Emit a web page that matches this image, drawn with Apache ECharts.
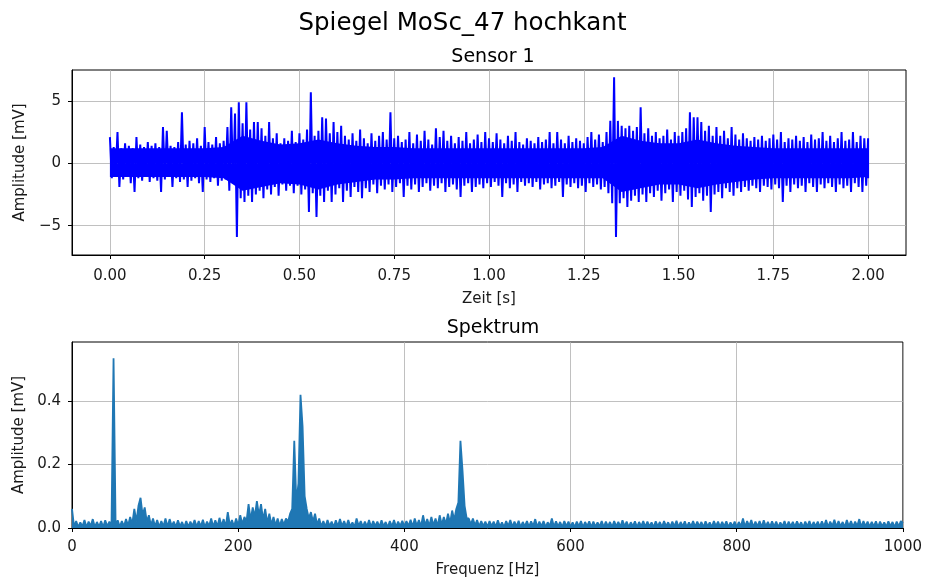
<!DOCTYPE html>
<html lang="de">
<head>
    <meta charset="UTF-8">
    <title>Spiegel MoSc_47 hochkant</title>
    <script src="https://cdn.jsdelivr.net/npm/echarts@6/dist/echarts.min.js"></script>
    <style>
        body { margin: 0; background: #fff; }
        #chart { width: 925px; height: 580px; }
    </style>
</head>
<body>
    <div id="chart"></div>
    <script>
        // Sensor 1: Spitzenwerte je 10 ms (oben / unten)
        var sigHi = [
            2.1,1.3,2.5,1.2,1.6,1.4,1.2,2.1,1.5,1.3,
            1.7,1.4,1.6,1.3,2.9,2.6,1.4,1.3,1.7,4.1,
            1.5,1.8,1.6,2.0,1.4,2.9,1.7,1.5,2.1,1.6,
            1.8,2.9,4.5,4.0,4.9,3.2,4.9,2.7,3.3,3.3,
            2.8,2.2,3.3,2.0,2.4,1.6,2.0,1.8,2.6,1.7,
            2.4,1.9,2.7,5.7,2.2,2.6,3.7,3.6,2.4,3.3,
            2.5,3.0,2.2,1.9,2.4,1.8,2.7,2.0,1.6,2.4,
            1.8,2.2,2.5,1.9,4.1,2.0,2.2,1.7,1.9,2.5,
            1.6,2.3,1.8,2.6,1.9,1.5,2.8,2.1,2.6,1.8,
            2.2,1.6,2.1,1.8,2.5,1.6,1.9,2.3,1.7,2.5,
            2.0,1.7,2.4,1.9,1.6,2.2,1.8,2.5,1.7,1.5,
            2.0,1.8,1.6,2.1,1.7,1.9,2.5,1.6,2.5,1.9,
            1.6,2.2,1.7,2.0,1.8,1.6,2.1,2.5,1.9,2.3,
            1.7,2.5,3.4,6.9,3.4,3.0,2.8,3.0,2.6,2.9,
            4.5,2.4,2.8,2.2,2.5,2.0,2.2,2.7,1.9,2.5,
            2.2,2.5,2.8,4.1,3.7,3.7,3.3,2.6,3.0,2.2,
            2.9,2.2,2.6,2.0,2.9,2.3,1.9,2.4,2.0,1.8,
            2.1,1.9,2.2,1.8,2.0,2.3,1.9,2.5,1.7,2.0,
            1.9,2.2,1.8,2.1,1.7,2.3,1.9,2.0,2.5,1.8,
            2.2,1.7,2.0,2.5,1.8,1.9,2.5,1.7,2.2,2.0,
            2.0
        ];
        var sigLo = [
            -1.2,-1.0,-1.9,-1.3,-1.1,-1.6,-2.3,-1.2,-1.4,-1.1,
            -1.5,-1.2,-1.4,-2.3,-1.3,-1.1,-1.9,-1.2,-1.5,-1.3,
            -1.9,-1.4,-1.2,-1.6,-2.3,-1.3,-1.5,-1.2,-1.8,-1.4,
            -1.3,-2.2,-1.6,-5.9,-2.8,-3.1,-2.6,-3.1,-2.5,-2.2,
            -2.8,-2.1,-2.5,-1.9,-2.6,-1.7,-2.2,-1.8,-2.4,-1.8,
            -2.5,-2.1,-3.9,-2.4,-4.3,-2.6,-3.1,-2.2,-3.1,-2.5,
            -2.0,-3.1,-2.2,-2.7,-1.9,-2.3,-2.8,-2.0,-2.3,-1.7,
            -2.4,-1.8,-2.1,-1.7,-2.3,-1.9,-1.6,-2.7,-1.8,-2.1,
            -1.7,-2.3,-1.9,-1.6,-2.2,-1.8,-2.0,-1.6,-2.3,-1.9,
            -1.7,-2.1,-2.7,-1.8,-1.6,-2.3,-1.9,-1.7,-2.0,-1.6,
            -1.9,-1.5,-1.8,-2.7,-1.6,-2.0,-1.7,-2.3,-1.5,-1.8,
            -1.6,-1.9,-1.5,-2.1,-1.7,-1.6,-2.0,-1.8,-1.5,-2.7,
            -1.7,-1.9,-1.6,-2.0,-1.8,-2.3,-1.6,-1.9,-1.7,-2.1,
            -1.9,-2.4,-3.2,-5.9,-3.2,-2.8,-3.5,-3.0,-2.6,-3.1,
            -2.5,-3.1,-2.4,-2.7,-2.2,-3.0,-2.4,-2.1,-3.1,-2.3,
            -2.6,-2.2,-2.9,-3.5,-2.7,-2.4,-3.0,-2.6,-3.9,-2.5,
            -2.3,-2.8,-2.0,-2.3,-2.6,-2.0,-2.3,-1.9,-2.2,-1.8,
            -2.0,-2.3,-1.8,-1.9,-2.1,-1.7,-2.0,-3.1,-1.8,-2.3,
            -1.7,-2.0,-1.8,-2.3,-1.6,-1.9,-2.3,-1.7,-2.0,-1.6,
            -1.9,-2.3,-1.7,-2.0,-1.8,-2.3,-1.6,-1.9,-2.3,-1.8,
            -1.2
        ];
        var sigStep = 0.01; // s

        // dicht gefuellter Kern des Signals, je 50 ms
        var coreStep = 0.05;
        var coreHi = [1.2,1.2,1.2,1.2,1.2,1.2,1.3,2.2,1.8,1.5,1.6,1.9,1.6,1.4,1.3,1.3,1.2,1.2,1.2,1.2,1.2,
                      1.2,1.2,1.2,1.2,1.2,1.3,2.2,1.8,1.6,1.6,1.9,1.6,1.4,1.3,1.2,1.2,1.2,1.2,1.2,1.2];
        var coreLo = [-1.1,-1.1,-1.1,-1.1,-1.1,-1.1,-1.2,-2.2,-1.9,-1.6,-1.7,-2.1,-1.7,-1.5,-1.3,-1.3,-1.2,-1.2,-1.2,-1.2,-1.2,
                      -1.2,-1.2,-1.2,-1.2,-1.2,-1.2,-2.3,-2.0,-1.7,-1.7,-2.0,-1.7,-1.5,-1.3,-1.2,-1.2,-1.2,-1.2,-1.2,-1.1];

        // Spektrum: Amplitude alle 2.5 Hz von 0 bis 1000 Hz
        var specStep = 2.5;
        var specAmp = [
            0.06,0.004,0.022,0.003,0.018,0.005,0.025,0.002,0.02,0.006,0.028,0.003,0.019,0.004,0.022,0.003,0.024,0.005,0.02,0.004,
            0.535,0.006,0.024,0.004,0.022,0.005,0.028,0.008,0.035,0.012,0.06,0.02,0.07,0.095,0.04,0.065,0.02,0.04,0.008,0.03,
            0.005,0.025,0.003,0.022,0.005,0.03,0.004,0.028,0.006,0.02,0.003,0.024,0.005,0.019,0.002,0.022,0.004,0.02,0.006,0.025,
            0.004,0.022,0.005,0.026,0.003,0.02,0.006,0.03,0.004,0.024,0.005,0.032,0.006,0.028,0.004,0.05,0.008,0.025,0.005,0.03,
            0.008,0.04,0.012,0.035,0.02,0.075,0.025,0.065,0.035,0.085,0.04,0.075,0.025,0.06,0.015,0.045,0.01,0.035,0.008,0.03,
            0.006,0.028,0.01,0.03,0.02,0.045,0.06,0.275,0.08,0.14,0.42,0.32,0.1,0.06,0.03,0.05,0.02,0.045,0.01,0.03,
            0.005,0.022,0.004,0.025,0.006,0.02,0.003,0.024,0.005,0.028,0.006,0.022,0.004,0.025,0.005,0.018,0.003,0.03,0.006,0.022,
            0.004,0.02,0.005,0.025,0.003,0.022,0.006,0.02,0.004,0.024,0.005,0.019,0.002,0.022,0.005,0.025,0.004,0.02,0.006,0.023,
            0.005,0.022,0.006,0.026,0.004,0.03,0.007,0.025,0.005,0.04,0.008,0.028,0.006,0.035,0.008,0.03,0.006,0.04,0.01,0.035,
            0.012,0.045,0.015,0.055,0.025,0.06,0.08,0.275,0.18,0.07,0.03,0.03,0.012,0.03,0.008,0.025,0.005,0.022,0.006,0.02,
            0.004,0.022,0.006,0.02,0.003,0.024,0.005,0.018,0.003,0.022,0.006,0.025,0.004,0.02,0.005,0.023,0.003,0.019,0.005,0.022,
            0.004,0.021,0.006,0.028,0.003,0.02,0.005,0.022,0.003,0.018,0.006,0.03,0.004,0.021,0.005,0.019,0.003,0.022,0.005,0.02,
            0.004,0.018,0.003,0.02,0.005,0.022,0.003,0.019,0.006,0.021,0.003,0.02,0.004,0.018,0.005,0.022,0.003,0.02,0.005,0.019,
            0.003,0.022,0.005,0.019,0.004,0.024,0.005,0.02,0.003,0.018,0.006,0.021,0.003,0.019,0.005,0.022,0.004,0.02,0.005,0.018,
            0.003,0.021,0.005,0.019,0.003,0.022,0.006,0.018,0.004,0.02,0.005,0.023,0.003,0.019,0.005,0.021,0.003,0.018,0.005,0.022,
            0.004,0.02,0.005,0.019,0.003,0.021,0.005,0.018,0.003,0.022,0.006,0.02,0.004,0.019,0.005,0.021,0.003,0.018,0.005,0.02,
            0.003,0.019,0.005,0.03,0.004,0.022,0.006,0.025,0.003,0.02,0.005,0.022,0.003,0.024,0.005,0.019,0.004,0.021,0.005,0.02,
            0.003,0.018,0.005,0.022,0.003,0.02,0.005,0.019,0.004,0.021,0.006,0.018,0.003,0.02,0.005,0.022,0.003,0.019,0.005,0.02,
            0.004,0.021,0.005,0.025,0.003,0.02,0.006,0.026,0.004,0.022,0.005,0.019,0.003,0.025,0.005,0.022,0.004,0.02,0.006,0.028,
            0.003,0.022,0.005,0.02,0.004,0.019,0.005,0.021,0.003,0.02,0.005,0.018,0.004,0.021,0.006,0.019,0.003,0.02,0.005,0.022,
            0.015
        ];

        var timeTicks = [0, 0.25, 0.5, 0.75, 1.0, 1.25, 1.5, 1.75, 2.0];
        var ampTicks = [-5, 0, 5];
        var specTicks = [0, 0.2, 0.4];

        // Punkte abwechselnd oben/unten zusammensetzen
        var sigData = [];
        for (var i = 0; i < sigHi.length; i++) {
            var t = i * sigStep;
            sigData.push([t, sigHi[i]]);
            var tLo = (i < sigHi.length - 1) ? t + sigStep / 2 : t;
            sigData.push([tLo, sigLo[i]]);
        }
        var coreTop = coreHi.map(function (v, i) { return [i * coreStep, v]; });
        var coreBottom = coreLo.map(function (v, i) { return [i * coreStep, v]; });
        var specData = specAmp.map(function (a, i) { return [i * specStep, a]; });

        var fontName = 'DejaVu Sans';
        var gridLine = { show: true, lineStyle: { color: '#b0b0b0', width: 0.8 } };
        var tickStyle = { show: true, inside: false, length: 4, lineStyle: { color: '#000' } };
        var axisLineStyle = { show: true, onZero: false, lineStyle: { color: '#000' } };
        var labelStyle = { color: '#1a1a1a', fontSize: 15, fontFamily: fontName };
        var axisNameStyle = { color: '#1a1a1a', fontSize: 15, fontFamily: fontName };
        function minus(v) { return String(v).replace('-', '\u2212'); }

        var myChart = echarts.init(document.getElementById('chart'));
        myChart.setOption({
            animation: false,
            title: [
                { text: 'Spiegel MoSc_47 hochkant', left: 'center', top: 6,
                  textStyle: { fontFamily: fontName, fontSize: 24.5, fontWeight: 'normal', color: '#000' } },
                { text: 'Sensor 1', left: 488, textAlign: 'center', top: 43,
                  textStyle: { fontFamily: fontName, fontSize: 19, fontWeight: 'normal', color: '#000' } },
                { text: 'Spektrum', left: 488, textAlign: 'center', top: 314,
                  textStyle: { fontFamily: fontName, fontSize: 19, fontWeight: 'normal', color: '#000' } }
            ],
            grid: [
                { left: 72, top: 70, width: 834, height: 185, show: true, borderColor: '#000', borderWidth: 1 },
                { left: 72, top: 342, width: 834, height: 186, show: true, borderColor: '#000', borderWidth: 1 }
            ],
            xAxis: [
                {
                    type: 'value', gridIndex: 0, min: -0.1, max: 2.1,
                    name: 'Zeit [s]', nameLocation: 'middle', nameGap: 37, nameTextStyle: axisNameStyle,
                    axisLine: axisLineStyle,
                    axisTick: Object.assign({ customValues: timeTicks }, tickStyle),
                    axisLabel: Object.assign({ customValues: timeTicks, margin: 14,
                        formatter: function (v) { return v.toFixed(2); } }, labelStyle),
                    splitLine: gridLine
                },
                {
                    type: 'value', gridIndex: 1, min: 0, max: 1000, interval: 200,
                    name: 'Frequenz [Hz]', nameLocation: 'middle', nameGap: 35, nameTextStyle: axisNameStyle,
                    axisLine: axisLineStyle, axisTick: tickStyle,
                    axisLabel: Object.assign({ margin: 12,
                        formatter: function (v) { return String(v); } }, labelStyle),
                    splitLine: gridLine
                }
            ],
            yAxis: [
                {
                    type: 'value', gridIndex: 0, min: -7.35, max: 7.48,
                    name: 'Amplitude [mV]', nameLocation: 'middle', nameGap: 43, nameTextStyle: axisNameStyle,
                    axisLine: axisLineStyle,
                    axisTick: Object.assign({ customValues: ampTicks }, tickStyle),
                    axisLabel: Object.assign({ customValues: ampTicks, margin: 11, formatter: minus }, labelStyle),
                    splitLine: gridLine
                },
                {
                    type: 'value', gridIndex: 1, min: 0, max: 0.586,
                    name: 'Amplitude [mV]', nameLocation: 'middle', nameGap: 43, nameTextStyle: axisNameStyle,
                    axisLine: axisLineStyle,
                    axisTick: Object.assign({ customValues: specTicks }, tickStyle),
                    axisLabel: Object.assign({ customValues: specTicks, margin: 11,
                        formatter: function (v) { return v.toFixed(1); } }, labelStyle),
                    splitLine: gridLine
                }
            ],
            series: [
                {
                    name: 'Kern oben', type: 'line', xAxisIndex: 0, yAxisIndex: 0,
                    data: coreTop, showSymbol: false, silent: true,
                    lineStyle: { width: 0 }, areaStyle: { color: '#0000ff', opacity: 1 }
                },
                {
                    name: 'Kern unten', type: 'line', xAxisIndex: 0, yAxisIndex: 0,
                    data: coreBottom, showSymbol: false, silent: true,
                    lineStyle: { width: 0 }, areaStyle: { color: '#0000ff', opacity: 1 }
                },
                {
                    name: 'Sensor 1', type: 'line', xAxisIndex: 0, yAxisIndex: 0,
                    data: sigData, showSymbol: false,
                    lineStyle: { color: '#0000ff', width: 2 }
                },
                {
                    name: 'Spektrum', type: 'line', xAxisIndex: 1, yAxisIndex: 1,
                    data: specData, showSymbol: false,
                    lineStyle: { color: '#1f77b4', width: 1.8 },
                    areaStyle: { color: '#1f77b4', opacity: 1 }
                }
            ]
        });
    </script>
</body>
</html>
